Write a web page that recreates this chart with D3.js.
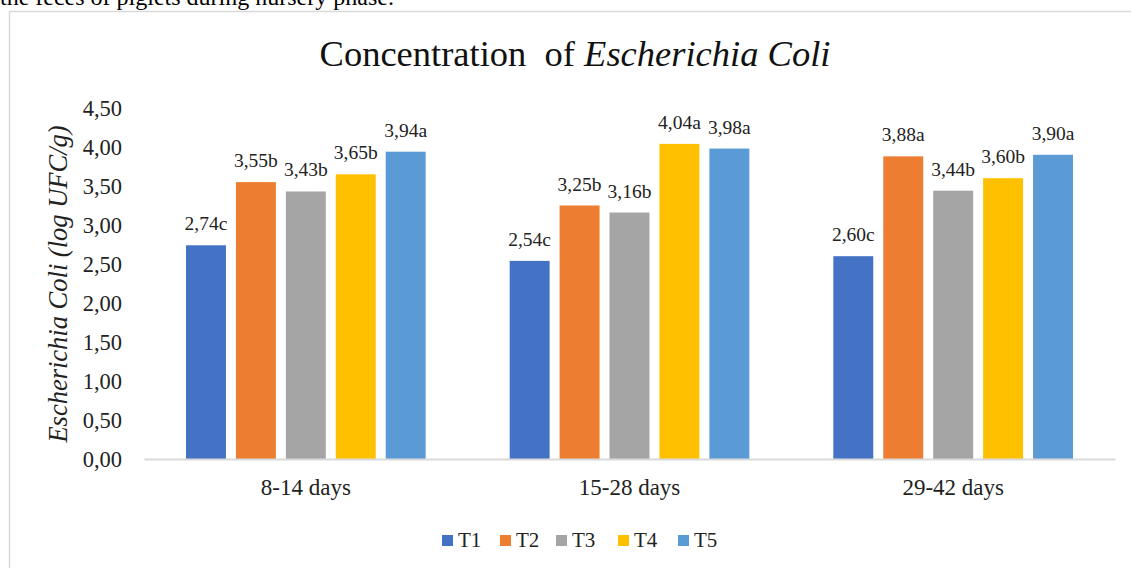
<!DOCTYPE html>
<html><head><meta charset="utf-8">
<script src="https://cdn.jsdelivr.net/npm/d3@7"></script>
<style>
body{margin:0;background:#fff;}
svg{display:block;}
svg text{font-family:"Liberation Serif","Times New Roman",serif !important;}
</style>
</head><body>
<svg id="c" width="1131" height="568"></svg>
<script>
const categories = ["8-14 days", "15-28 days", "29-42 days"];
const seriesNames = ["T1", "T2", "T3", "T4", "T5"];
const T1 = [2.74, 2.54, 2.60];
const T2 = [3.55, 3.25, 3.88];
const T3 = [3.43, 3.16, 3.44];
const T4 = [3.65, 4.04, 3.60];
const T5 = [3.94, 3.98, 3.90];
const letters = [
  ["c", "b", "b", "b", "a"],
  ["c", "b", "b", "a", "a"],
  ["c", "a", "b", "b", "a"]
];
const yTicks = [0, 0.5, 1, 1.5, 2, 2.5, 3, 3.5, 4, 4.5];
const colors = ["#4472C4", "#ED7D31", "#A5A5A5", "#FFC000", "#5B9BD5"];
const values = [T1, T2, T3, T4, T5];

const svg = d3.select("#c");
const fmt = v => v.toFixed(2).replace(".", ",");

// cut-off caption text at top
svg.append("text").attr("x", 0).attr("y", 5).attr("font-size", 24).attr("fill", "#000")
  .text("the feces of piglets during nursery phase.");

// chart border
svg.append("rect").attr("x", 9.5).attr("y", 11.5).attr("width", 1140).attr("height", 580)
  .attr("fill", "none").attr("stroke", "#d9d9d9").attr("stroke-width", 1.5);

const y = d3.scaleLinear().domain([0, 4.5]).range([459, 108]);
const x0 = d3.scaleBand().domain(categories).range([144, 1115]).paddingInner(0).paddingOuter(0);
const bw = x0.bandwidth();
const x1 = d3.scaleBand().domain(seriesNames).range([42, bw - 42]).paddingInner(0.2).paddingOuter(0);

// y axis labels
const yAxis = d3.axisLeft(y).tickValues(yTicks).tickFormat(fmt).tickSize(0).tickPadding(0);
const ga = svg.append("g").attr("transform", "translate(122,0)").call(yAxis);
ga.select(".domain").remove();
ga.selectAll("text").attr("font-size", 22.5).attr("fill", "#222").attr("dy", "0.34em");

// bars
categories.forEach((cat, ci) => {
  const g = svg.append("g").attr("transform", `translate(${x0(cat)},0)`);
  seriesNames.forEach((s, si) => {
    const v = values[si][ci];
    g.append("rect").attr("x", x1(s)).attr("y", y(v))
      .attr("width", x1.bandwidth()).attr("height", y(0) - y(v)).attr("fill", colors[si]);
    g.append("text").attr("x", x1(s) + x1.bandwidth() / 2).attr("y", y(v) - 15)
      .attr("text-anchor", "middle").attr("font-size", 19.5).attr("fill", "#222")
      .text(fmt(v) + letters[ci][si]);
  });
});

// x axis
const xAxis = d3.axisBottom(x0).tickSize(0).tickPadding(0);
const gx = svg.append("g").attr("transform", `translate(0,${y(0)})`).call(xAxis);
gx.select(".domain").attr("stroke", "#d9d9d9").attr("stroke-width", 2);
gx.selectAll("text").attr("font-size", 23).attr("fill", "#222").attr("dy", "0").attr("y", 36);

// title
const t = svg.append("text").attr("x", 575).attr("y", 66).attr("text-anchor", "middle")
  .attr("font-size", 36.5).attr("fill", "#111");
t.append("tspan").text("Concentration\u00A0 of ");
t.append("tspan").attr("font-style", "italic").text("Escherichia Coli");

// y axis title
svg.append("text").attr("transform", "translate(67,284) rotate(-90)").attr("text-anchor", "middle")
  .attr("font-size", 26.5).attr("font-style", "italic").attr("fill", "#222")
  .text("Escherichia Coli (log UFC/g)");

// legend
const legX = [442, 500, 556, 618, 678];
seriesNames.forEach((s, i) => {
  svg.append("rect").attr("x", legX[i]).attr("y", 535).attr("width", 11).attr("height", 11).attr("fill", colors[i]);
  svg.append("text").attr("x", legX[i] + 16).attr("y", 547).attr("font-size", 21).attr("fill", "#222").text(s);
});
</script>
</body></html>
